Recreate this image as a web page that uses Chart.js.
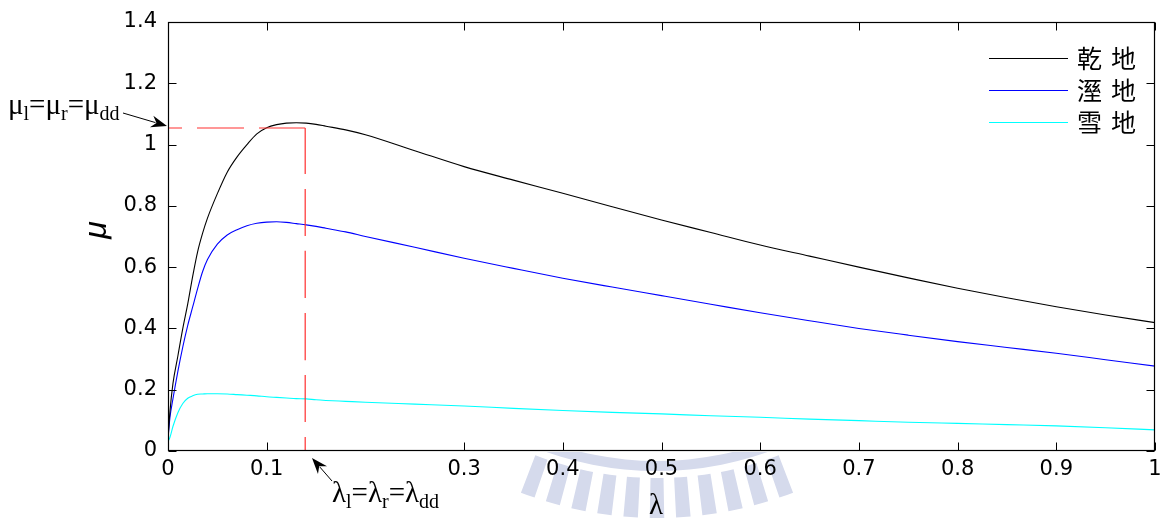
<!DOCTYPE html>
<html>
<head>
<meta charset="utf-8">
<script src="https://cdn.jsdelivr.net/npm/chart.js@4/dist/chart.umd.min.js"></script>
<style>
  body { margin: 0; background: #fff; }
  canvas { display: block; }
</style>
</head>
<body>
<canvas id="chart" width="1162" height="519"></canvas>
<script>
const canvas = document.getElementById("chart");
const ctx = canvas.getContext("2d");

// slip ratio samples
var lam = [0, 0.002, 0.005, 0.01, 0.015, 0.02, 0.025, 0.03, 0.035, 0.04,
  0.05, 0.06, 0.07, 0.08, 0.09, 0.1, 0.11, 0.12, 0.13, 0.14,
  0.15, 0.16, 0.18, 0.2, 0.25, 0.3, 0.35, 0.4, 0.45, 0.5,
  0.55, 0.6, 0.65, 0.7, 0.75, 0.8, 0.85, 0.9, 0.95, 1.0];
// friction coefficient per road surface
var muDry = [0.04, 0.13, 0.22, 0.31, 0.40, 0.48, 0.57, 0.65, 0.71, 0.76,
  0.84, 0.91, 0.96, 1.00, 1.035, 1.055, 1.065, 1.07, 1.071, 1.07,
  1.066, 1.06, 1.048, 1.032, 0.98, 0.928, 0.884, 0.841, 0.797, 0.754,
  0.713, 0.672, 0.636, 0.600, 0.565, 0.531, 0.500, 0.471, 0.444, 0.419];
var muWet = [0.04, 0.11, 0.17, 0.26, 0.34, 0.41, 0.47, 0.53, 0.585, 0.625,
  0.675, 0.705, 0.722, 0.735, 0.743, 0.747, 0.748, 0.746, 0.742, 0.738,
  0.733, 0.727, 0.715, 0.70, 0.665, 0.629, 0.596, 0.564, 0.535, 0.507,
  0.479, 0.451, 0.425, 0.400, 0.378, 0.357, 0.338, 0.319, 0.298, 0.277];
var muSnow = [0.03, 0.045, 0.08, 0.125, 0.155, 0.172, 0.18, 0.185, 0.186, 0.187,
  0.187, 0.186, 0.184, 0.182, 0.18, 0.177, 0.175, 0.173, 0.171, 0.170,
  0.167, 0.165, 0.162, 0.159, 0.153, 0.147, 0.139, 0.132, 0.126, 0.121,
  0.115, 0.110, 0.104, 0.099, 0.094, 0.090, 0.086, 0.082, 0.076, 0.069];

var seriesNames = ["乾地", "溼地", "雪地"];
var seriesColors = ["#000000", "#0000ff", "#00ffff"];

// peak point marked with the dashed guide
var lamDD = 0.139;
var muDD = 1.054;

var xTicks = [0, 0.1, 0.3, 0.4, 0.5, 0.6, 0.7, 0.8, 0.9, 1];
var xTickLabels = ["0", "0.1", "0.3", "0.4", "0.5", "0.6", "0.7", "0.8", "0.9", "1"];
var yTicks = [0, 0.2, 0.4, 0.6, 0.8, 1, 1.2, 1.4];
var yTickLabels = ["0", "0.2", "0.4", "0.6", "0.8", "1", "1.2", "1.4"];

function pts(ys) {
  return lam.map(function (l, i) { return { x: l, y: ys[i] }; });
}

// faint logo printed behind the lower margin
const watermark = {
  id: "watermark",
  beforeDraw(chart) {
    const c = chart.ctx;
    const area = chart.chartArea;
    const cx = 657, cy = 140;
    c.save();
    c.beginPath();
    c.rect(0, area.bottom + 1, chart.width, chart.height);
    c.clip();
    c.fillStyle = "#d5daec";
    c.beginPath();
    c.arc(cx, cy, 331, 0, Math.PI);
    c.arc(cx, cy, 321, Math.PI, 0, true);
    c.fill();
    for (let a = -20; a <= 20; a += 4) {
      const t = Math.PI / 2 + a * Math.PI / 180;
      const w = 1.1 * Math.PI / 180;
      c.beginPath();
      c.arc(cx, cy, 378, t - w, t + w);
      c.arc(cx, cy, 338, t + w, t - w, true);
      c.fill();
    }
    c.restore();
  }
};

// box, inward ticks, legend, axis titles and the two callouts
const decor = {
  id: "decor",
  afterDraw(chart) {
    const c = chart.ctx;
    const a = chart.chartArea;
    const xs = chart.scales.x, ys = chart.scales.y;
    const L = Math.round(a.left) + 0.5, R = Math.round(a.right) - 0.5;
    const T = Math.round(a.top) + 0.5, B = Math.round(a.bottom) - 0.5;
    c.save();
    c.strokeStyle = "#000";
    c.lineWidth = 1.2;
    c.strokeRect(L, T, R - L, B - T);
    c.lineWidth = 1;
    c.beginPath();
    xTicks.forEach(function (v) {
      const px = Math.round(xs.getPixelForValue(v)) + 0.5;
      c.moveTo(px, B); c.lineTo(px, B - 8);
      c.moveTo(px, T); c.lineTo(px, T + 8);
    });
    yTicks.forEach(function (v) {
      const py = Math.round(ys.getPixelForValue(v)) + 0.5;
      c.moveTo(L, py); c.lineTo(L + 8, py);
      c.moveTo(R, py); c.lineTo(R - 8, py);
    });
    c.stroke();

    // legend
    c.font = "25px 'Noto Sans CJK TC'";
    c.textBaseline = "middle";
    c.textAlign = "left";
    seriesNames.forEach(function (name, i) {
      const y = 58 + i * 32;
      c.strokeStyle = seriesColors[i];
      c.lineWidth = 1;
      c.beginPath();
      c.moveTo(989, y + 0.5); c.lineTo(1068, y + 0.5);
      c.stroke();
      c.fillStyle = "#000";
      c.fillText(name.charAt(0), 1077, y);
      c.fillText(name.charAt(1), 1111, y);
    });

    // axis titles
    c.fillStyle = "#000";
    c.save();
    c.translate(97, 230);
    c.rotate(-Math.PI / 2);
    c.font = "italic 32px 'Liberation Sans'";
    c.textAlign = "center";
    c.textBaseline = "middle";
    c.fillText("μ", 0, 0);
    c.restore();
    c.font = "29px 'Liberation Serif'";
    c.textAlign = "center";
    c.textBaseline = "middle";
    c.fillText("λ", 656, 506);

    // callout labels
    function subLabel(x, y, sym, subs) {
      c.textAlign = "left";
      c.textBaseline = "alphabetic";
      let px = x;
      subs.forEach(function (s, i) {
        c.font = "29px 'Liberation Serif'";
        c.fillText(sym, px, y);
        px += c.measureText(sym).width;
        c.font = "20px 'Liberation Serif'";
        c.fillText(s, px, y + 6);
        px += c.measureText(s).width;
        if (i < subs.length - 1) {
          c.font = "29px 'Liberation Serif'";
          c.fillText("=", px, y);
          px += c.measureText("=").width;
        }
      });
    }
    subLabel(8, 114, "μ", ["l", "r", "dd"]);
    subLabel(332, 502, "λ", ["l", "r", "dd"]);

    function arrow(x0, y0, x1, y1) {
      const ang = Math.atan2(y1 - y0, x1 - x0);
      c.strokeStyle = "#000";
      c.fillStyle = "#000";
      c.lineWidth = 1;
      c.beginPath();
      c.moveTo(x0, y0);
      c.lineTo(x1 - 12 * Math.cos(ang), y1 - 12 * Math.sin(ang));
      c.stroke();
      c.beginPath();
      c.moveTo(x1, y1);
      c.lineTo(x1 - 16 * Math.cos(ang) + 6 * Math.sin(ang), y1 - 16 * Math.sin(ang) - 6 * Math.cos(ang));
      c.lineTo(x1 - 11 * Math.cos(ang), y1 - 11 * Math.sin(ang));
      c.lineTo(x1 - 16 * Math.cos(ang) - 6 * Math.sin(ang), y1 - 16 * Math.sin(ang) + 6 * Math.cos(ang));
      c.closePath();
      c.fill();
    }
    arrow(123, 113, 167, 126);
    arrow(332, 481, 312, 458);
    c.restore();
  }
};

function drawChart() {
  new Chart(ctx, {
    type: "line",
    data: {
      datasets: [
        {
          label: "guideH",
          data: [{ x: 0, y: muDD }, { x: lamDD, y: muDD }],
          borderColor: "#ff3030",
          borderWidth: 1.2,
          borderDash: [47, 15],
          borderDashOffset: 33,
          tension: 0,
          order: 0,
        },
        {
          label: "guideV",
          data: [{ x: lamDD, y: 0 }, { x: lamDD, y: muDD }],
          borderColor: "#ff3030",
          borderWidth: 1.2,
          borderDash: [47, 15],
          borderDashOffset: 33,
          tension: 0,
          order: 0,
        },
        {
          label: seriesNames[0],
          data: pts(muDry),
          borderColor: seriesColors[0],
          order: 1,
        },
        {
          label: seriesNames[1],
          data: pts(muWet),
          borderColor: seriesColors[1],
          order: 2,
        },
        {
          label: seriesNames[2],
          data: pts(muSnow),
          borderColor: seriesColors[2],
          order: 3,
        },
      ],
    },
    options: {
      responsive: false,
      animation: false,
      layout: { padding: { left: 0, right: 7, top: 22, bottom: 0 } },
      elements: {
        point: { radius: 0 },
        line: { borderWidth: 1.1, cubicInterpolationMode: "monotone", backgroundColor: "transparent" },
      },
      plugins: {
        legend: { display: false },
        tooltip: { enabled: false },
      },
      scales: {
        x: {
          type: "linear",
          min: 0,
          max: 1,
          grid: { display: false },
          border: { display: false },
          afterBuildTicks: function (s) { s.ticks = xTicks.map(function (v) { return { value: v }; }); },
          afterFit: function (s) { s.height = 68; },
          ticks: {
            padding: -2,
            color: "#000",
            font: { family: "'DejaVu Sans'", size: 21 },
            maxRotation: 0,
            callback: function (v) { return xTickLabels[xTicks.indexOf(v)]; },
          },
        },
        y: {
          min: 0,
          max: 1.4,
          grid: { display: false },
          border: { display: false },
          afterBuildTicks: function (s) { s.ticks = yTicks.map(function (v) { return { value: v }; }); },
          afterFit: function (s) { s.width = 168; },
          ticks: {
            padding: 3,
            color: "#000",
            font: { family: "'DejaVu Sans'", size: 21 },
            callback: function (v) { return yTickLabels[yTicks.indexOf(v)]; },
          },
        },
      },
    },
    plugins: [watermark, decor],
  });
}

drawChart();
</script>
</body>
</html>
